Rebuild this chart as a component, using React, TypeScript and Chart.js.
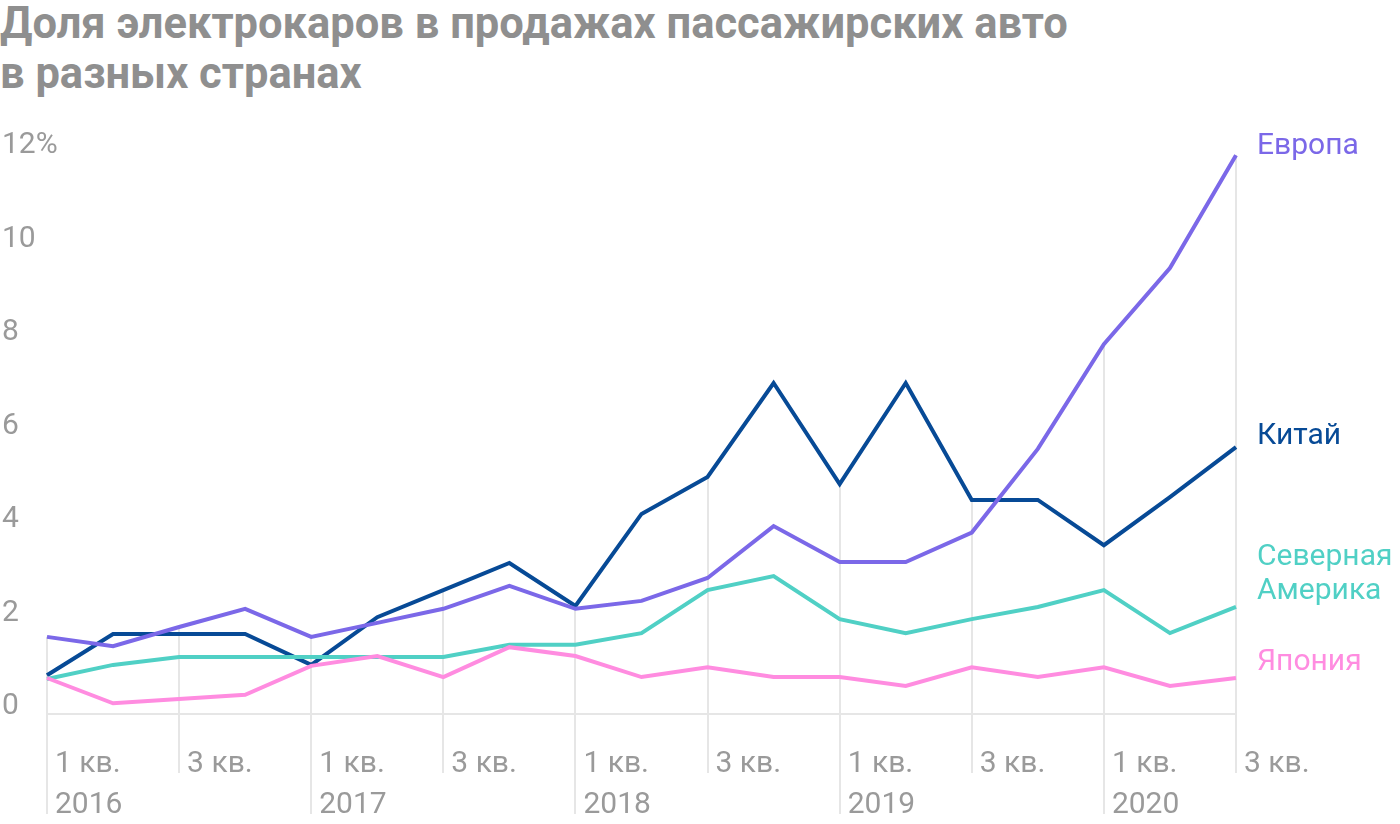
import React, { useEffect, useRef } from "react";
import { Chart, registerables } from "chart.js";

Chart.register(...registerables);

// ---------- DATA ----------
const categories = [
  "1 кв. 2016", "2 кв. 2016", "3 кв. 2016", "4 кв. 2016",
  "1 кв. 2017", "2 кв. 2017", "3 кв. 2017", "4 кв. 2017",
  "1 кв. 2018", "2 кв. 2018", "3 кв. 2018", "4 кв. 2018",
  "1 кв. 2019", "2 кв. 2019", "3 кв. 2019", "4 кв. 2019",
  "1 кв. 2020", "2 кв. 2020", "3 кв. 2020",
];

const quarterTicks = [
  "1 кв.", "", "3 кв.", "",
  "1 кв.", "", "3 кв.", "",
  "1 кв.", "", "3 кв.", "",
  "1 кв.", "", "3 кв.", "",
  "1 кв.", "", "3 кв.",
];

const yearTicks = [
  "2016", "", "", "",
  "2017", "", "", "",
  "2018", "", "", "",
  "2019", "", "", "",
  "2020", "", "",
];

const yTickValues = [0, 2, 4, 6, 8, 10, 12];
const yTickLabels = ["0", "2", "4", "6", "8", "10", "12%"];

const europe = [1.65, 1.45, 1.86, 2.25, 1.65, 1.95, 2.25, 2.74, 2.25, 2.42, 2.91, 4.02, 3.25, 3.25, 3.88, 5.67, 7.91, 9.54, 11.95];
const china = [0.83, 1.71, 1.71, 1.71, 1.05, 2.07, 2.65, 3.23, 2.31, 4.28, 5.07, 7.08, 4.92, 7.08, 4.58, 4.58, 3.61, 4.64, 5.71];
const northAmerica = [0.75, 1.05, 1.22, 1.22, 1.22, 1.22, 1.22, 1.48, 1.48, 1.73, 2.65, 2.95, 2.03, 1.73, 2.03, 2.29, 2.65, 1.73, 2.29];
const japan = [0.77, 0.23, 0.32, 0.41, 1.03, 1.24, 0.79, 1.43, 1.24, 0.79, 1.0, 0.79, 0.79, 0.6, 1.0, 0.79, 1.0, 0.6, 0.77];

const europeLabel = ["Европа"];
const chinaLabel = ["Китай"];
const northAmericaLabel = ["Северная", "Америка"];
const japanLabel = ["Япония"];

const titleLines = ["Доля электрокаров в продажах пассажирских авто", "в разных странах"];

// ---------- STYLES ----------
const COLORS = {
  europe: "#7b68e8",
  china: "#074a96",
  na: "#50d0c5",
  japan: "#ff8ce0",
  grid: "#e6e6e6",
  tick: "#9a9a9a",
  title: "#8f8f8f",
};
const LABEL_FONT = "30px Roboto";

const overlayPlugin = {
  id: "overlay",
  beforeDatasetsDraw(chart: any) {
    const { ctx, scales } = chart;
    const x = scales.x;
    const y = scales.y;
    ctx.save();
    ctx.strokeStyle = COLORS.grid;
    ctx.lineWidth = 2;
    // vertical drop lines from highest series value down to the labels
    quarterTicks.forEach((q, i) => {
      if (!q) return;
      const maxV = Math.max(...chart.data.datasets.map((d: any) => d.data[i]));
      const px = Math.round(x.getPixelForValue(i));
      const top = y.getPixelForValue(maxV);
      const bottom = yearTicks[i] ? y.bottom + 100 : y.bottom + 59;
      ctx.beginPath();
      ctx.moveTo(px, top);
      ctx.lineTo(px, bottom);
      ctx.stroke();
    });
    // zero baseline
    const y0 = Math.round(y.getPixelForValue(0));
    ctx.beginPath();
    ctx.moveTo(x.left, y0);
    ctx.lineTo(x.right, y0);
    ctx.stroke();
    ctx.restore();
  },
  afterDraw(chart: any) {
    const { ctx, scales } = chart;
    const x = scales.x;
    const y = scales.y;
    ctx.save();
    ctx.font = LABEL_FONT;
    ctx.textBaseline = "alphabetic";
    ctx.textAlign = "left";
    ctx.fillStyle = COLORS.tick;
    // y labels
    yTickValues.forEach((v, k) => {
      ctx.fillText(yTickLabels[k], 2, y.getPixelForValue(v));
    });
    // x labels
    quarterTicks.forEach((q, i) => {
      if (!q) return;
      const px = x.getPixelForValue(i);
      ctx.fillText(q, px + 8, y.bottom + 58);
      if (yearTicks[i]) ctx.fillText(yearTicks[i], px + 8, y.bottom + 99);
    });
    // series end labels
    chart.data.datasets.forEach((ds: any) => {
      const last = ds.data[ds.data.length - 1];
      const px = x.getPixelForValue(ds.data.length - 1) + 21;
      const base = y.getPixelForValue(last) + ds.labelDy;
      ctx.fillStyle = ds.borderColor;
      const lines: string[] = ds.endLabel;
      lines.forEach((t, k) => {
        ctx.fillText(t, px, base - (lines.length - 1 - k) * 34);
      });
    });
    ctx.restore();
  },
};

export default function App() {
  const canvasRef = useRef<HTMLCanvasElement | null>(null);

  useEffect(() => {
    if (!canvasRef.current) return;
    const chart = new Chart(canvasRef.current, {
      type: "line",
      data: {
        labels: categories,
        datasets: [
          { label: "Япония", data: japan, borderColor: COLORS.japan, endLabel: japanLabel, labelDy: -8 } as any,
          { label: "Северная Америка", data: northAmerica, borderColor: COLORS.na, endLabel: northAmericaLabel, labelDy: -8 } as any,
          { label: "Европа", data: europe, borderColor: COLORS.europe, endLabel: europeLabel, labelDy: -1 } as any,
          { label: "Китай", data: china, borderColor: COLORS.china, endLabel: chinaLabel, labelDy: -3 } as any,
        ].map((d: any) => ({
          ...d,
          borderWidth: 4,
          pointRadius: 0,
          pointHoverRadius: 0,
          tension: 0,
          fill: false,
          clip: false,
        })),
      },
      options: {
        responsive: false,
        animation: false,
        events: [],
        layout: { padding: { left: 47, right: 164, top: 153, bottom: 110 } },
        plugins: {
          legend: { display: false },
          title: { display: false },
          tooltip: { enabled: false },
        },
        scales: {
          x: { type: "category", display: false, offset: false },
          y: { type: "linear", display: false, min: 0, max: 12 },
        },
      },
      plugins: [overlayPlugin],
    });
    if ((document as any).fonts && (document as any).fonts.ready) {
      (document as any).fonts.ready.then(() => chart.draw());
    }
    return () => chart.destroy();
  }, []);

  return (
    <div style={{ position: "absolute", left: 0, top: 0, width: 1400, height: 824, background: "#fff", overflow: "hidden" }}>
      <div
        style={{
          position: "absolute",
          left: 0,
          top: -1,
          fontFamily: "Roboto, sans-serif",
          fontWeight: 700,
          fontSize: 43.5,
          lineHeight: "50px",
          color: COLORS.title,
          whiteSpace: "nowrap",
        }}
      >
        {titleLines.map((t, i) => (
          <div key={i}>{t}</div>
        ))}
      </div>
      <canvas ref={canvasRef} width={1400} height={824} style={{ position: "absolute", left: 0, top: 0, display: "block" }} />
    </div>
  );
}
